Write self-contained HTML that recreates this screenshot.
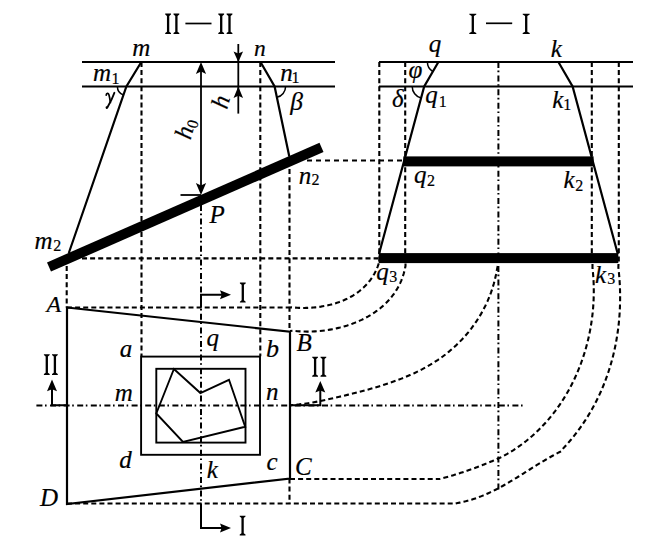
<!DOCTYPE html>
<html><head><meta charset="utf-8"><style>
html,body{margin:0;padding:0;background:#fff;overflow:hidden;}
svg{display:block;}
text{font-family:"Liberation Serif",serif;fill:#000;stroke:#000;stroke-width:0.2px;}
</style></head><body>
<svg width="645" height="546" viewBox="0 0 645 546" stroke="#000" fill="none">
<rect x="0" y="0" width="645" height="546" fill="#fff" stroke="none"/>
<line x1="82" y1="62" x2="335" y2="62" stroke-width="2.2" stroke-linecap="butt"/>
<line x1="82" y1="86.5" x2="335" y2="86.5" stroke-width="2.2" stroke-linecap="butt"/>
<polyline points="141.3,62 126.4,86.5 68.8,253.0" fill="none" stroke-width="2.2" stroke-linejoin="miter"/>
<polyline points="260.5,62 274.6,86.5 289.3,156.6" fill="none" stroke-width="2.2" stroke-linejoin="miter"/>
<line x1="49" y1="267" x2="321.5" y2="147.4" stroke-width="10"/>
<line x1="201" y1="70" x2="201" y2="187" stroke-width="1.8" stroke-linecap="butt"/>
<polygon points="201.00,62.00 206.10,74.00 201.00,71.60 195.90,74.00" fill="#000" stroke="none"/>
<polygon points="201.00,195.00 195.90,183.00 201.00,185.40 206.10,183.00" fill="#000" stroke="none"/>
<line x1="180.5" y1="195" x2="201" y2="195" stroke-width="1.8" stroke-linecap="butt"/>
<line x1="238.3" y1="44" x2="238.3" y2="113.6" stroke-width="1.8" stroke-linecap="butt"/>
<polygon points="238.30,62.00 233.55,51.50 238.30,53.60 243.05,51.50" fill="#000" stroke="none"/>
<polygon points="238.30,86.50 243.05,98.00 238.30,95.70 233.55,98.00" fill="#000" stroke="none"/>
<path d="M117.40,86.50 A9,9 0 0 0 123.46,95.01" fill="none" stroke-width="1.5"/>
<path d="M285.60,86.50 A11,11 0 0 1 276.86,97.27" fill="none" stroke-width="1.5"/>
<line x1="379" y1="62" x2="633" y2="62" stroke-width="2.2" stroke-linecap="butt"/>
<line x1="379" y1="86.5" x2="633" y2="86.5" stroke-width="2.2" stroke-linecap="butt"/>
<polyline points="438.4,62 424.2,86.5 379.0,254" fill="none" stroke-width="2.2" stroke-linejoin="miter"/>
<polyline points="558.4,62 572.6,86.5 617.8,254" fill="none" stroke-width="2.2" stroke-linejoin="miter"/>
<rect x="403.3" y="156.4" width="190.3" height="10" fill="#000" stroke="none"/>
<rect x="378.7" y="253.1" width="239.59999999999997" height="10" fill="#000" stroke="none"/>
<path d="M427.40,62.00 A11,11 0 0 0 432.88,71.52" fill="none" stroke-width="1.5"/>
<path d="M412.20,86.50 A12,12 0 0 0 421.07,98.09" fill="none" stroke-width="1.5"/>
<line x1="379.3" y1="62" x2="379.3" y2="264" stroke-width="2.1" stroke-linecap="butt" stroke-dasharray="5 3.1"/>
<line x1="405.2" y1="62" x2="405.2" y2="264" stroke-width="2.1" stroke-linecap="butt" stroke-dasharray="5 3.1"/>
<line x1="591.8" y1="62" x2="591.8" y2="264" stroke-width="2.1" stroke-linecap="butt" stroke-dasharray="5 3.1"/>
<line x1="618.8" y1="62" x2="618.8" y2="264" stroke-width="2.1" stroke-linecap="butt" stroke-dasharray="5 3.1"/>
<line x1="498.4" y1="62" x2="498.4" y2="489.5" stroke-width="2.0" stroke-linecap="butt" stroke-dasharray="6 2.6 1.6 3.4"/>
<line x1="307" y1="160.5" x2="403" y2="160.5" stroke-width="2.1" stroke-linecap="butt" stroke-dasharray="5 4"/>
<line x1="82" y1="258.4" x2="378" y2="258.4" stroke-width="2.1" stroke-linecap="butt" stroke-dasharray="5 3.1"/>
<line x1="66.7" y1="266" x2="66.7" y2="307.5" stroke-width="2.1" stroke-linecap="butt" stroke-dasharray="5 3.1"/>
<line x1="141.5" y1="62" x2="141.5" y2="356.3" stroke-width="2.1" stroke-linecap="butt" stroke-dasharray="5 3.1"/>
<line x1="260.3" y1="62" x2="260.3" y2="356.3" stroke-width="2.1" stroke-linecap="butt" stroke-dasharray="5 3.1"/>
<line x1="289.5" y1="161" x2="289.5" y2="331.7" stroke-width="2.1" stroke-linecap="butt" stroke-dasharray="5 3.1"/>
<line x1="289.5" y1="478.5" x2="289.5" y2="503.5" stroke-width="2.1" stroke-linecap="butt" stroke-dasharray="5 3.1"/>
<line x1="201" y1="205" x2="201" y2="503.5" stroke-width="2.0" stroke-linecap="butt" stroke-dasharray="6 2.6 1.6 3.4"/>
<polygon points="67,307.5 290,331.7 290,478.5 67,504" fill="none" stroke-width="2.2" stroke-linejoin="miter"/>
<rect x="141.1" y="356.6" width="118.9" height="98.2" fill="none" stroke-width="1.9"/>
<rect x="156.3" y="368.8" width="89.2" height="73.8" fill="none" stroke-width="1.9"/>
<polygon points="173.9,369 200.4,393 229,379.8 245.2,426.7 183,441.9 156.3,413.5" fill="none" stroke-width="1.9" stroke-linejoin="miter"/>
<line x1="36.4" y1="405.4" x2="525" y2="405.4" stroke-width="2.0" stroke-linecap="butt" stroke-dasharray="6 2.6 1.6 3.4"/>
<line x1="67" y1="307.5" x2="290" y2="307.5" stroke-width="2.1" stroke-linecap="butt" stroke-dasharray="5 3.1"/>
<path d="M378.80,263.40 L378.24,265.00 L377.57,266.83 L376.85,268.61 L376.07,270.35 L375.25,272.04 L374.38,273.69 L373.46,275.29 L372.50,276.85 L371.49,278.37 L370.43,279.85 L369.34,281.28 L368.20,282.67 L367.03,284.02 L365.81,285.33 L364.56,286.60 L363.27,287.83 L361.95,289.01 L360.59,290.16 L359.20,291.27 L357.77,292.34 L356.32,293.37 L354.84,294.36 L353.33,295.31 L351.79,296.22 L350.22,297.10 L348.64,297.94 L347.02,298.75 L345.39,299.51 L343.73,300.25 L342.06,300.94 L340.36,301.60 L338.65,302.23 L336.92,302.82 L335.18,303.38 L333.42,303.90 L331.65,304.39 L329.87,304.85 L328.08,305.27 L326.28,305.66 L324.47,306.02 L322.65,306.34 L320.83,306.64 L319.00,306.90 L317.17,307.14 L315.34,307.34 L313.51,307.51 L311.68,307.66 L309.84,307.77 L308.01,307.86 L306.19,307.91 L304.37,307.94 L302.55,307.94 L300.75,307.91 L298.95,307.86 L297.16,307.78 L295.38,307.67 L293.61,307.53 L291.86,307.37 L290.00,307.50" fill="none" stroke-width="2.1" stroke-dasharray="5 3.1"/>
<path d="M405.50,263.40 L405.51,265.81 L405.01,268.45 L404.42,271.04 L403.74,273.57 L402.98,276.04 L402.12,278.45 L401.19,280.81 L400.17,283.11 L399.08,285.35 L397.91,287.54 L396.66,289.67 L395.34,291.75 L393.95,293.77 L392.50,295.73 L390.97,297.64 L389.39,299.50 L387.74,301.30 L386.03,303.05 L384.26,304.74 L382.43,306.37 L380.56,307.96 L378.63,309.49 L376.65,310.97 L374.63,312.39 L372.56,313.76 L370.44,315.08 L368.29,316.35 L366.09,317.56 L363.86,318.72 L361.60,319.83 L359.30,320.89 L356.97,321.90 L354.62,322.85 L352.23,323.76 L349.83,324.61 L347.40,325.42 L344.95,326.17 L342.48,326.87 L340.00,327.53 L337.50,328.13 L335.00,328.69 L332.48,329.19 L329.96,329.65 L327.43,330.06 L324.89,330.42 L322.36,330.73 L319.83,330.99 L317.30,331.21 L314.77,331.37 L312.26,331.49 L309.75,331.57 L307.25,331.59 L304.77,331.57 L302.30,331.51 L299.86,331.39 L297.43,331.23 L295.02,331.03 L292.64,330.78 L290.00,331.00" fill="none" stroke-width="2.1" stroke-dasharray="5 3.1"/>
<path d="M497.70,266.00 L496.79,270.38 L495.93,274.99 L494.91,279.55 L493.72,284.05 L492.38,288.48 L490.88,292.85 L489.23,297.15 L487.44,301.38 L485.50,305.54 L483.42,309.62 L481.20,313.62 L478.85,317.54 L476.38,321.38 L473.78,325.13 L471.06,328.79 L468.22,332.35 L465.27,335.82 L462.21,339.20 L459.04,342.47 L455.77,345.64 L452.41,348.70 L448.95,351.65 L445.40,354.49 L441.76,357.22 L438.04,359.83 L434.24,362.32 L430.37,364.70 L426.42,366.98 L422.41,369.15 L418.34,371.22 L414.21,373.20 L410.03,375.08 L405.80,376.89 L401.52,378.61 L397.20,380.25 L392.85,381.83 L388.46,383.34 L384.05,384.78 L379.61,386.17 L375.16,387.50 L370.69,388.78 L366.21,390.02 L361.72,391.22 L357.23,392.38 L352.75,393.52 L348.27,394.62 L343.80,395.71 L339.35,396.77 L334.91,397.82 L330.48,398.83 L326.05,399.81 L321.61,400.74 L317.17,401.61 L312.72,402.43 L308.25,403.17 L303.75,403.83 L299.23,404.41 L294.67,404.89 L290.00,405.20" fill="none" stroke-width="2.1" stroke-dasharray="5 3.1"/>
<path d="M592.50,264.00 L592.49,267.91 L592.89,271.74 L593.21,275.57 L593.47,279.42 L593.65,283.28 L593.75,287.14 L593.79,291.01 L593.76,294.88 L593.65,298.75 L593.47,302.62 L593.22,306.49 L592.90,310.36 L592.51,314.22 L592.05,318.08 L591.51,321.93 L590.91,325.77 L590.23,329.59 L589.49,333.40 L588.67,337.20 L587.79,340.98 L586.83,344.75 L585.81,348.49 L584.71,352.21 L583.55,355.91 L582.31,359.59 L581.01,363.23 L579.63,366.85 L578.19,370.44 L576.68,374.00 L575.10,377.53 L573.45,381.02 L571.73,384.47 L569.94,387.89 L568.09,391.26 L566.16,394.60 L564.17,397.89 L562.11,401.14 L559.98,404.34 L557.79,407.49 L555.53,410.59 L553.20,413.64 L550.80,416.64 L548.33,419.58 L545.80,422.47 L543.20,425.30 L540.54,428.07 L537.80,430.78 L535.00,433.43 L532.14,436.01 L529.20,438.52 L526.21,440.97 L523.14,443.35 L520.01,445.65 L516.81,447.88 L513.55,450.04 L510.22,452.13 L506.83,454.13 L503.37,456.06 L500.00,457.70 L500.00,457.70 L499.01,458.14 L498.03,458.58 L497.04,459.02 L496.05,459.45 L495.06,459.88 L494.07,460.31 L493.08,460.74 L492.08,461.16 L491.09,461.58 L490.09,462.00 L489.09,462.41 L488.09,462.82 L487.09,463.23 L486.09,463.63 L485.09,464.04 L484.09,464.44 L483.08,464.83 L482.07,465.23 L481.07,465.62 L480.06,466.01 L479.05,466.39 L478.04,466.77 L477.03,467.15 L476.02,467.53 L475.00,467.91 L473.99,468.28 L472.97,468.65 L471.96,469.01 L470.94,469.37 L469.92,469.74 L468.90,470.09 L467.88,470.45 L466.86,470.80 L465.84,471.15 L464.81,471.50 L463.79,471.84 L462.76,472.18 L461.74,472.52 L460.71,472.85 L459.68,473.19 L458.65,473.52 L457.62,473.84 L456.59,474.17 L455.56,474.49 L454.53,474.81 L453.50,475.13 L452.46,475.44 L451.43,475.75 L450.39,476.06 L449.36,476.37 L448.32,476.67 L447.28,476.97 L446.25,477.27 L445.21,477.56 L444.17,477.86 L443.13,478.15 L442.08,478.43 L441.04,478.72 L440.00,479.00" fill="none" stroke-width="2.1" stroke-dasharray="5 3.1"/>
<path d="M618.50,264.00 L618.36,267.37 L618.74,270.80 L619.07,274.24 L619.36,277.68 L619.60,281.12 L619.80,284.56 L619.95,288.00 L620.05,291.45 L620.11,294.89 L620.12,298.33 L620.09,301.77 L620.00,305.20 L619.87,308.63 L619.70,312.06 L619.47,315.48 L619.20,318.90 L618.88,322.31 L618.52,325.71 L618.10,329.11 L617.64,332.50 L617.13,335.87 L616.57,339.24 L615.97,342.60 L615.31,345.95 L614.61,349.28 L613.86,352.61 L613.06,355.92 L612.21,359.21 L611.31,362.49 L610.36,365.76 L609.36,369.01 L608.31,372.25 L607.22,375.46 L606.07,378.66 L604.87,381.84 L603.63,385.00 L602.33,388.15 L600.98,391.27 L599.58,394.37 L598.13,397.44 L596.63,400.50 L595.08,403.53 L593.48,406.54 L591.83,409.52 L590.13,412.48 L588.37,415.41 L586.57,418.32 L584.71,421.19 L582.80,424.04 L580.84,426.86 L578.83,429.66 L576.77,432.42 L574.65,435.15 L572.48,437.85 L570.26,440.52 L567.99,443.15 L565.67,445.75 L563.29,448.32 L561.50,451.10 L561.50,451.10 L559.70,452.01 L557.92,452.93 L556.14,453.86 L554.37,454.80 L552.60,455.77 L550.85,456.74 L549.10,457.73 L547.35,458.74 L545.61,459.75 L543.88,460.78 L542.15,461.81 L540.43,462.85 L538.71,463.90 L536.99,464.96 L535.27,466.02 L533.56,467.09 L531.85,468.16 L530.14,469.24 L528.43,470.31 L526.72,471.39 L525.01,472.46 L523.31,473.54 L521.60,474.61 L519.89,475.68 L518.17,476.74 L516.46,477.80 L514.74,478.85 L513.02,479.90 L511.29,480.94 L509.57,481.97 L507.83,482.98 L506.09,483.99 L504.35,484.99 L502.60,485.97 L500.84,486.93 L499.08,487.89 L497.31,488.82 L495.53,489.74 L493.75,490.64 L491.95,491.52 L490.15,492.39 L488.33,493.23 L486.51,494.05 L484.68,494.84 L482.83,495.61 L480.97,496.36 L479.10,497.08 L477.22,497.77 L475.33,498.44 L473.42,499.08 L471.50,499.68 L469.57,500.26 L467.62,500.80 L465.65,501.32 L463.67,501.79 L461.68,502.24 L459.66,502.64 L457.63,503.01 L455.70,503.50" fill="none" stroke-width="2.1" stroke-dasharray="5 3.1"/>
<line x1="290" y1="479" x2="440" y2="479" stroke-width="2.1" stroke-linecap="butt" stroke-dasharray="5 3.1"/>
<line x1="67" y1="503.5" x2="455.7" y2="503.5" stroke-width="2.1" stroke-linecap="butt" stroke-dasharray="5 3.1"/>
<polyline points="201,307.5 201,294.7 222,294.7" fill="none" stroke-width="2.0" stroke-linejoin="miter"/>
<polygon points="231.00,294.70 220.00,299.20 221.65,294.70 220.00,290.20" fill="#000" stroke="none"/>
<polyline points="201,503.5 201,528 222,528" fill="none" stroke-width="2.0" stroke-linejoin="miter"/>
<polygon points="231.00,528.00 220.00,532.50 221.65,528.00 220.00,523.50" fill="#000" stroke="none"/>
<polyline points="67,405.2 52,405.2 52,388" fill="none" stroke-width="2.0" stroke-linejoin="miter"/>
<polygon points="52.00,379.60 57.00,391.30 52.00,389.31 47.00,391.30" fill="#000" stroke="none"/>
<polyline points="290,405.2 320.3,405.2 320.3,390" fill="none" stroke-width="2.0" stroke-linejoin="miter"/>
<polygon points="320.30,380.90 325.30,392.60 320.30,390.61 315.30,392.60" fill="#000" stroke="none"/>
<text x="132.35" y="56.44" font-size="25" font-style="italic">m</text>
<text x="253.94" y="56.34" font-size="23.5" font-style="italic">n</text>
<text x="92.95" y="80.74" font-size="25" font-style="italic">m</text>
<text x="111.53" y="83.68" font-size="16" font-style="normal">1</text>
<text x="280.22" y="81.14" font-size="25" font-style="italic">n</text>
<text x="291.53" y="83.28" font-size="16" font-style="normal">1</text>
<path d="M106.2,95.2 C106.4,93 108.3,92.6 109,95 C109.6,97 110,99.5 110.4,102.5" fill="none" stroke-width="1.7" stroke-linecap="round"/>
<path d="M114.4,92.8 C112.6,98 110,103 107.6,107 C107,108.2 106.4,108.4 106.6,107.2" fill="none" stroke-width="1.9" stroke-linecap="round"/>
<text x="290.27" y="110.01" font-size="25.5" font-style="italic">β</text>
<text x="298.82" y="183.74" font-size="25" font-style="italic">n</text>
<text x="311.59" y="185.30" font-size="16" font-style="normal">2</text>
<text x="209.40" y="223.18" font-size="25" font-style="italic">P</text>
<text x="34.60" y="248.89" font-size="25" font-style="italic">m</text>
<text x="53.34" y="250.65" font-size="16" font-style="normal">2</text>
<text x="428.63" y="52.23" font-size="25" font-style="italic">q</text>
<text x="550.76" y="56.62" font-size="25" font-style="italic">k</text>
<text x="408.55" y="77.53" font-size="25" font-style="italic">φ</text>
<text x="391.96" y="106.71" font-size="25" font-style="italic">δ</text>
<text x="425.18" y="103.23" font-size="25" font-style="italic">q</text>
<text x="438.78" y="106.78" font-size="16" font-style="normal">1</text>
<text x="552.21" y="108.42" font-size="25" font-style="italic">k</text>
<text x="563.23" y="110.28" font-size="16" font-style="normal">1</text>
<text x="414.03" y="182.73" font-size="25" font-style="italic">q</text>
<text x="426.99" y="185.65" font-size="16" font-style="normal">2</text>
<text x="563.41" y="187.82" font-size="25" font-style="italic">k</text>
<text x="575.24" y="190.60" font-size="16" font-style="normal">2</text>
<text x="376.13" y="279.73" font-size="25" font-style="italic">q</text>
<text x="389.33" y="281.72" font-size="16" font-style="normal">3</text>
<text x="595.06" y="283.27" font-size="25" font-style="italic">k</text>
<text x="607.33" y="283.97" font-size="16" font-style="normal">3</text>
<text x="46.54" y="312.42" font-size="24" font-style="italic">A</text>
<text x="119.85" y="357.26" font-size="25" font-style="italic">a</text>
<text x="206.38" y="345.53" font-size="25" font-style="italic">q</text>
<text x="265.96" y="356.74" font-size="26" font-style="italic">b</text>
<text x="296.47" y="350.95" font-size="25" font-style="italic">B</text>
<text x="114.80" y="401.04" font-size="25" font-style="italic">m</text>
<text x="266.02" y="400.44" font-size="25" font-style="italic">n</text>
<text x="119.24" y="468.04" font-size="25" font-style="italic">d</text>
<text x="39.90" y="506.16" font-size="25" font-style="italic">D</text>
<text x="206.81" y="478.42" font-size="25" font-style="italic">k</text>
<text x="266.60" y="469.97" font-size="25" font-style="italic">c</text>
<text x="294.95" y="475.46" font-size="25" font-style="italic">C</text>
<text x="0" y="0" font-size="25" font-style="italic" transform="translate(227,110) rotate(-75)">h</text>
<text x="0" y="0" font-size="25" font-style="italic" transform="translate(190.5,140.5) rotate(-75)">h<tspan font-size="16" font-style="normal" dy="3">0</tspan></text>
<polygon points="165.20,13.60 171.00,13.60 171.00,14.50 169.25,15.90 169.25,31.70 171.00,33.10 171.00,34.00 165.20,34.00 165.20,33.10 166.95,31.70 166.95,15.90 165.20,14.50" fill="#000" stroke="none"/>
<polygon points="173.50,13.60 179.30,13.60 179.30,14.50 177.55,15.90 177.55,31.70 179.30,33.10 179.30,34.00 173.50,34.00 173.50,33.10 175.25,31.70 175.25,15.90 173.50,14.50" fill="#000" stroke="none"/>
<line x1="185.4" y1="23.5" x2="211.5" y2="23.5" stroke-width="1.7" stroke-linecap="butt"/>
<polygon points="218.30,13.60 224.10,13.60 224.10,14.50 222.35,15.90 222.35,31.70 224.10,33.10 224.10,34.00 218.30,34.00 218.30,33.10 220.05,31.70 220.05,15.90 218.30,14.50" fill="#000" stroke="none"/>
<polygon points="226.60,13.60 232.40,13.60 232.40,14.50 230.65,15.90 230.65,31.70 232.40,33.10 232.40,34.00 226.60,34.00 226.60,33.10 228.35,31.70 228.35,15.90 226.60,14.50" fill="#000" stroke="none"/>
<polygon points="469.30,13.70 476.30,13.70 476.30,14.60 473.95,16.00 473.95,31.70 476.30,33.10 476.30,34.00 469.30,34.00 469.30,33.10 471.65,31.70 471.65,16.00 469.30,14.60" fill="#000" stroke="none"/>
<line x1="486" y1="23.3" x2="512.2" y2="23.3" stroke-width="1.7" stroke-linecap="butt"/>
<polygon points="522.70,13.70 529.70,13.70 529.70,14.60 527.35,16.00 527.35,31.70 529.70,33.10 529.70,34.00 522.70,34.00 522.70,33.10 525.05,31.70 525.05,16.00 522.70,14.60" fill="#000" stroke="none"/>
<polygon points="239.90,282.50 245.70,282.50 245.70,283.40 243.95,284.80 243.95,300.30 245.70,301.70 245.70,302.60 239.90,302.60 239.90,301.70 241.65,300.30 241.65,284.80 239.90,283.40" fill="#000" stroke="none"/>
<polygon points="239.70,515.70 245.50,515.70 245.50,516.60 243.75,518.00 243.75,533.20 245.50,534.60 245.50,535.50 239.70,535.50 239.70,534.60 241.45,533.20 241.45,518.00 239.70,516.60" fill="#000" stroke="none"/>
<polygon points="43.90,354.20 49.70,354.20 49.70,355.10 47.95,356.50 47.95,372.70 49.70,374.10 49.70,375.00 43.90,375.00 43.90,374.10 45.65,372.70 45.65,356.50 43.90,355.10" fill="#000" stroke="none"/>
<polygon points="52.00,354.20 57.80,354.20 57.80,355.10 56.05,356.50 56.05,372.70 57.80,374.10 57.80,375.00 52.00,375.00 52.00,374.10 53.75,372.70 53.75,356.50 52.00,355.10" fill="#000" stroke="none"/>
<polygon points="312.20,356.70 318.00,356.70 318.00,357.60 316.25,359.00 316.25,374.40 318.00,375.80 318.00,376.70 312.20,376.70 312.20,375.80 313.95,374.40 313.95,359.00 312.20,357.60" fill="#000" stroke="none"/>
<polygon points="320.50,356.70 326.30,356.70 326.30,357.60 324.55,359.00 324.55,374.40 326.30,375.80 326.30,376.70 320.50,376.70 320.50,375.80 322.25,374.40 322.25,359.00 320.50,357.60" fill="#000" stroke="none"/>
</svg></body></html>
